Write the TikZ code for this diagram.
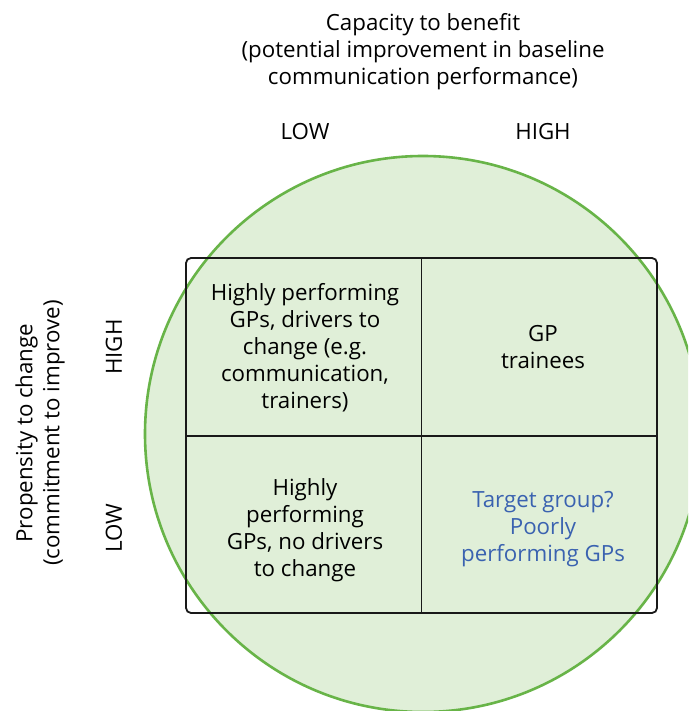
\documentclass[tikz,border=0pt]{standalone}
\usepackage{fontspec}
\setmainfont{Open Sans}
\definecolor{circfill}{RGB}{224,239,216}
\definecolor{circline}{RGB}{104,180,72}
\definecolor{bluetxt}{RGB}{58,98,176}
\begin{document}
\begin{tikzpicture}[x=1pt,y=-1pt,
  lbl/.style={align=center,font=\fontsize{22.3}{27}\selectfont,inner sep=0pt},
  gridline/.style={line width=1.8pt,black!90}]
\useasboundingbox (0,0) rectangle (688,711);
\clip (0,0) rectangle (688,711);
\fill[white] (0,0) rectangle (688,711);
\node[circle,draw=circline,fill=circfill,line width=2.6pt,minimum size=556pt,inner sep=0pt] (circ) at (423,434) {};
\draw[gridline,rounded corners=5pt] (186,258) rectangle (657,613);
\coordinate (vt) at (421.5,258);
\coordinate (vb) at (421.5,613);
\coordinate (hl) at (186,436);
\coordinate (hr) at (657,436);
\draw[gridline] (vt) -- (vb);
\draw[gridline] (hl) -- (hr);
\node[lbl] (title) at (423,52) {Capacity to benefit\\(potential improvement in baseline\\communication performance)};
\node[lbl] (xlow) at (305,132) {LOW};
\node[lbl] (xhigh) at (543,132) {HIGH};
\node[lbl,rotate=90] (ytitle) at (40,433) {Propensity to change\\(commitment to improve)};
\node[lbl,rotate=90] (yhigh) at (114,347) {HIGH};
\node[lbl,rotate=90] (ylow) at (114,528) {LOW};
\node[lbl] (q1) at (305,348) {Highly performing\\GPs, drivers to\\change (e.g.\\communication,\\trainers)};
\node[lbl] (q2) at (543,347) {GP\\trainees};
\node[lbl] (q3) at (305,530) {Highly\\performing\\GPs, no drivers\\to change};
\node[lbl,text=bluetxt] (q4) at (543,529) {Target group?\\Poorly\\performing GPs};
\end{tikzpicture}
\end{document}
